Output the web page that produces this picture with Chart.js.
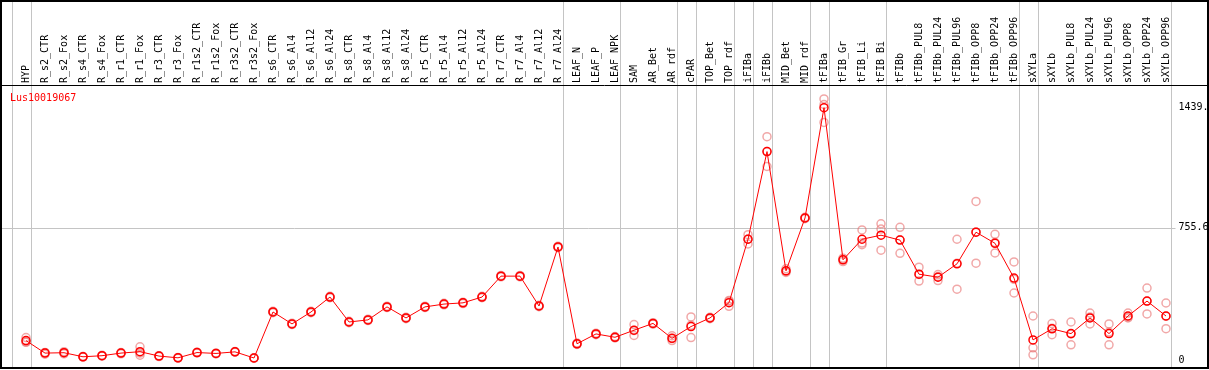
<!DOCTYPE html>
<html>
<head>
<meta charset="utf-8">
<script src="https://cdn.jsdelivr.net/npm/chart.js@4/dist/chart.umd.min.js"></script>
<style>
  body { margin: 0; background: #fff; }
  canvas { display: block; }
</style>
</head>
<body>
<canvas id="myChart" width="1209" height="370"></canvas>
<script>
// categories (sample names along the top)
const labels = [
  "HYP", "R_s2_CTR", "R_s2_Fox", "R_s4_CTR", "R_s4_Fox", "R_r1_CTR", "R_r1_Fox",
  "R_r3_CTR", "R_r3_Fox", "R_r1s2_CTR", "R_r1s2_Fox", "R_r3s2_CTR", "R_r3s2_Fox",
  "R_s6_CTR", "R_s6_Al4", "R_s6_Al12", "R_s6_Al24", "R_s8_CTR", "R_s8_Al4", "R_s8_Al12",
  "R_s8_Al24", "R_r5_CTR", "R_r5_Al4", "R_r5_Al12", "R_r5_Al24", "R_r7_CTR", "R_r7_Al4",
  "R_r7_Al12", "R_r7_Al24", "LEAF_N", "LEAF_P", "LEAF_NPK", "SAM", "AR_Bet", "AR_rdf",
  "cPAR", "TOP_Bet", "TOP_rdf", "iFIBa", "iFIBb", "MID_Bet", "MID_rdf", "tFIBa",
  "tFIB_Gr", "tFIB_Li", "tFIB_Bi", "tFIBb", "tFIBb_PUL8", "tFIBb_PUL24", "tFIBb_PUL96",
  "tFIBb_OPP8", "tFIBb_OPP24", "tFIBb_OPP96", "sXYLa", "sXYLb", "sXYLb_PUL8",
  "sXYLb_PUL24", "sXYLb_PUL96", "sXYLb_OPP8", "sXYLb_OPP24", "sXYLb_OPP96"
];

// how many samples are in each group (grey separators between groups)
const groupSizes = [1, 28, 3, 3, 1, 2, 1, 1, 2, 1, 3, 7, 1, 7];

const geneName = "Lus10019067";

// mean expression
const meanVals = [
  113, 42, 44, 21, 27, 42, 50, 25, 15, 45, 40, 49, 14,
  276, 208, 276, 361, 219, 231, 305, 242, 305, 321, 328, 361, 480, 480, 310, 646,
  95, 151, 132, 172, 211, 126, 193, 242, 329, 690, 1189, 510, 811, 1439,
  573, 690, 713, 685, 491, 474, 550, 730, 667, 469,
  117, 180, 153, 242, 153, 253, 338, 253
];

// replicates
const rep1 = [
  130, 46, 50, 22, 29, 45, 78, 27, 17, 47, 42, 51, 16,
  280, 212, 280, 365, 223, 235, 309, 246, 309, 325, 332, 365, 484, 484, 314, 650,
  99, 155, 136, 204, 215, 140, 248, 246, 342, 716, 1274, 501, 815, 1489,
  563, 743, 778, 758, 531, 489, 690, 905, 718, 561,
  253, 210, 219, 270, 208, 270, 412, 327
];
const rep2 = [
  106, 36, 38, 19, 25, 38, 30, 22, 13, 43, 38, 47, 12,
  272, 204, 272, 357, 215, 227, 301, 238, 301, 317, 324, 357, 476, 476, 306, 642,
  91, 147, 128, 142, 207, 113, 130, 238, 308, 663, 1104, 522, 807, 1457,
  582, 659, 748, 610, 452, 455, 406, 554, 612, 384,
  72, 147, 89, 208, 89, 242, 265, 181
];
const rep3 = [
  103, 44, 44, 22, 27, 43, 42, 26, 15, 45, 40, 49, 14,
  276, 208, 276, 361, 219, 231, 305, 242, 305, 321, 328, 361, 480, 480, 310, 646,
  95, 151, 132, 170, 211, 125, 201, 242, 337, 691, 1189, 507, 811, 1355,
  574, 668, 628, 687, 490, 478, 554, 731, 671, 462,
  32, 183, 151, 248, 162, 247, 337, 251
];

// right axis ticks
const yTicks = [0, 755.6, 1439];
const yTickLabels = ["0", "755.6", "1439."];

Chart.defaults.font.family = "'DejaVu Sans Mono', monospace";
Chart.defaults.font.size = 10;
Chart.defaults.color = "#000";

let ctx = document.getElementById("myChart");

const repStyle = {
  showLine: false,
  borderColor: "rgba(232, 110, 110, 0.6)",
  pointBackgroundColor: "rgba(0,0,0,0)",
  pointRadius: 4,
  pointBorderWidth: 1.5,
  order: 1,
};

// grey group lines, the 755.6 guide, header rule, frame and the gene name
const decorations = {
  id: "decorations",
  beforeDatasetsDraw: function (chart) {
    const c = chart.ctx;
    const xAxis = chart.scales.x;
    const yAxis = chart.scales.y;
    const step = xAxis.getPixelForValue(1) - xAxis.getPixelForValue(0);
    c.save();
    c.strokeStyle = "#c4c4c4";
    c.lineWidth = 1;
    // horizontal guide
    let gy = Math.round(yAxis.getPixelForValue(yTicks[1])) + 0.5;
    c.beginPath();
    c.moveTo(1, gy);
    c.lineTo(chart.chartArea.right, gy);
    c.stroke();
    // group separators
    let end = -1;
    const ends = [-1];
    for (let i = 0; i < groupSizes.length; i++) {
      end += groupSizes[i];
      ends.push(end);
    }
    ends.forEach((e) => {
      let x = xAxis.getPixelForValue(0) + e * step + 4.7;
      x = Math.round(x) + 0.5;
      c.beginPath();
      c.moveTo(x, 0);
      c.lineTo(x, chart.height - 1);
      c.stroke();
    });
    c.restore();
  },
  afterDraw: function (chart) {
    const c = chart.ctx;
    c.save();
    c.strokeStyle = "#000";
    c.lineWidth = 1;
    let sy = Math.round(chart.chartArea.top) + 0.5;
    c.beginPath();
    c.moveTo(0, sy);
    c.lineTo(chart.width, sy);
    c.stroke();
    c.lineWidth = 2;
    c.strokeRect(1, 1, chart.width - 2, chart.height - 3);
    c.fillStyle = "#ff0000";
    c.font = "10px 'DejaVu Sans Mono'";
    c.textBaseline = "alphabetic";
    c.fillText(geneName, 10, chart.chartArea.top + 16);
    c.restore();
  },
};

var config = {
  type: "line",
  data: {
    labels: labels,
    datasets: [
      {
        data: meanVals,
        borderColor: "#ff0000",
        borderWidth: 1,
        pointBackgroundColor: "rgba(0,0,0,0)",
        pointBorderColor: "#ff0000",
        pointRadius: 4,
        pointBorderWidth: 1.5,
        tension: 0,
        order: 0,
      },
      Object.assign({ data: rep1 }, repStyle),
      Object.assign({ data: rep2 }, repStyle),
      Object.assign({ data: rep3 }, repStyle),
    ],
  },
  options: {
    responsive: false,
    animation: false,
    layout: { padding: { left: 16.5, right: 0, top: 0, bottom: 2 } },
    scales: {
      x: {
        position: "top",
        offset: true,
        grid: { display: false, drawTicks: false },
        border: { display: false },
        ticks: {
          autoSkip: false,
          maxRotation: 90,
          minRotation: 90,
          padding: 2,
          labelOffset: 12,
          color: "#000",
        },
        afterFit: function (scale) {
          scale.height = 85;
        },
      },
      y: {
        position: "right",
        min: -23,
        max: 1568,
        grid: { display: false, drawTicks: false },
        border: { display: false },
        afterBuildTicks: function (scale) {
          scale.ticks = yTicks.map((v) => ({ value: v }));
        },
        ticks: {
          padding: 3,
          color: "#000",
          font: { lineHeight: 0.2 },
          callback: function (value, index) {
            return yTickLabels[index];
          },
        },
        afterFit: function (scale) {
          scale.width = 33.5;
          scale.paddingTop = 0;
          scale.paddingBottom = 0;
        },
      },
    },
    plugins: {
      legend: { display: false },
      tooltip: { enabled: false },
    },
  },
  plugins: [decorations],
};

const myChart = new Chart(ctx, config);
</script>
</body>
</html>
